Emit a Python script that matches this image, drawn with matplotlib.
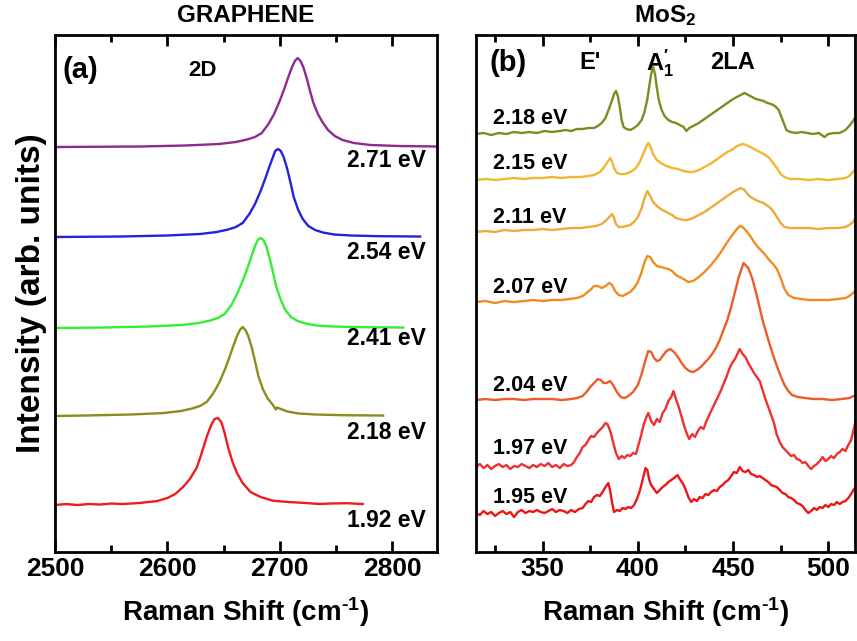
import numpy as np
import matplotlib
matplotlib.use("Agg")
import matplotlib.pyplot as plt
from matplotlib.ticker import MultipleLocator, NullLocator

plt.rcParams['font.family'] = ['Liberation Sans', 'DejaVu Sans']
plt.rcParams['font.weight'] = 'bold'
plt.rcParams['mathtext.fontset'] = 'custom'
plt.rcParams['mathtext.rm'] = 'Liberation Sans:bold'
plt.rcParams['mathtext.bf'] = 'Liberation Sans:bold'
plt.rcParams['mathtext.default'] = 'bf'

# ---- graphene 2D band (Raman shift, intensity above baseline) ----
gr_labels = ['2.71 eV', '2.54 eV', '2.41 eV', '2.18 eV', '1.92 eV']
gr_colors = ['#8e2a8e', '#2222dd', '#33ee33', '#8c8c1c', '#ee1c1c']
gr_offsets = [405, 315, 224, 136, 47]
gr_label_y = [392, 300, 214, 120, 32]

gr_271_x = [2500, 2576, 2616, 2646, 2661, 2671, 2678, 2684, 2690, 2695, 2700, 2704, 2708, 2711, 2713.5,
            2716, 2718.5, 2721, 2724, 2727, 2730, 2734, 2738, 2743, 2749, 2756, 2766, 2781, 2806, 2840]
gr_271_y = [0, 0.5, 1.5, 3, 5, 7.5, 10, 14, 23, 33, 46, 58, 71, 80, 86,
            89, 86, 80, 69, 56, 44, 33, 25, 17, 11, 7, 4, 2, 1, 0.5]
gr_254_x = [2500, 2559, 2599, 2629, 2644, 2654, 2661, 2667, 2673, 2678, 2683, 2687, 2691, 2694, 2696,
            2698.5, 2701, 2703.5, 2706.5, 2709.5, 2712.5, 2716.5, 2720.5, 2725.5, 2731.5, 2738.5, 2748.5,
            2763.5, 2788.5, 2825]
gr_254_y = [0, 0.5, 1.5, 3, 5, 7.5, 10, 14, 23, 33, 46, 58, 71, 80, 86,
            88, 86, 80, 69, 55, 40, 27, 18, 11, 7, 4.5, 2.5, 1.5, 0.8, 0.5]
gr_241_x = [2500, 2543, 2583, 2613, 2628, 2638, 2645, 2651, 2657, 2662, 2667, 2671, 2675, 2678, 2680.5,
            2683, 2685.5, 2688, 2691, 2694, 2697, 2701, 2705, 2710, 2716, 2723, 2733, 2748, 2773, 2810]
gr_241_y = [0, 0.5, 1.5, 3, 5, 7.5, 10, 14, 23, 34, 47, 59, 72, 82, 88,
            90, 88, 82, 70, 56, 41, 28, 18, 11, 7, 4.5, 2.5, 1.5, 0.8, 0.5]
gr_218_x = [2500, 2527, 2567, 2597, 2612, 2622, 2629, 2635, 2641, 2646, 2651, 2655, 2659, 2662, 2664.5,
            2667, 2669.5, 2672, 2675, 2678, 2681, 2685, 2689, 2694, 2696.5, 2697.5, 2707, 2717, 2732,
            2757, 2792]
gr_218_y = [0, 0.5, 1.5, 3, 5, 7.5, 10, 14, 23, 33, 46, 58, 71, 80, 86,
            89, 86, 80, 69, 55, 40, 27, 18, 11, 6.5, 8.5, 4.5, 2.5, 1.5, 0.8, 0.5]
gr_192_x = [2500, 2510, 2520, 2530, 2540, 2550, 2560, 2575, 2591, 2600, 2607, 2614, 2620, 2626, 2630,
            2635, 2639, 2642, 2645, 2648, 2651, 2654, 2658, 2662, 2667, 2674, 2683, 2694, 2708, 2724,
            2735, 2745, 2760, 2774]
gr_192_y = [0, 1, 0, 1, 0.5, 1.5, 1, 2, 4, 7, 11, 18, 26, 37, 50,
            68, 80, 86, 87, 83, 72, 58, 43, 32, 22, 13, 8, 4.3, 3, 2,
            1, 1.5, 1.8, 1]

gr_x = [gr_271_x, gr_254_x, gr_241_x, gr_218_x, gr_192_x]
gr_y = [gr_271_y, gr_254_y, gr_241_y, gr_218_y, gr_192_y]

# ---- MoS2 spectra (Raman shift, intensity above baseline) ----
mo_labels = ['2.18 eV', '2.15 eV', '2.11 eV', '2.07 eV', '2.04 eV', '1.97 eV', '1.95 eV']
mo_colors = ['#7d8c1f', '#f2b632', '#eeaa3a', '#f28c20', '#f05a28', '#f03030', '#ee1515']
mo_offsets = [418, 372, 320, 250, 152, 85, 39]
mo_label_y = [434, 389, 335, 265, 167, 104, 55]

mo_218_x = [315, 319, 323, 327, 331, 335, 339, 343, 347, 351, 355, 359, 362, 365, 368, 371, 374, 377,
            379, 381, 383, 385, 386.5, 387.5, 388.5, 389.5, 390.5, 391.5, 392.5, 394, 396, 398, 400,
            402, 403.5, 405, 406, 407, 408, 409, 410, 411, 412.5, 414, 416, 418, 420, 422, 424, 425.5,
            427, 429, 432, 435, 438, 441, 444, 447, 450, 452, 454, 456, 458, 460, 462, 464, 466, 468,
            470, 472, 474, 476, 478, 480, 483, 486, 489, 492, 495, 498, 500, 503, 506, 509, 511, 513,
            514.5]
mo_218_y = [0, 1, -1, 1, 0, 2, 1, 2, 1, 3, 2, 3, 4, 3, 5, 5, 6, 6,
            8, 11, 16, 26, 34, 40, 43, 38, 27, 14, 7, 5, 4, 6, 9,
            14, 22, 35, 48, 60, 67, 60, 46, 34, 24, 18, 14, 12, 11, 9, 7, 3,
            6, 8, 11, 15, 19, 23, 27, 31, 35, 37, 39, 41, 39, 37, 35, 34, 33, 31,
            30, 28, 24, 14, 4, 2, 1, 2, 1, 0, 1, -3, 0, 1, 1, 4, 8, 13,
            18]
mo_215_x = [315, 320, 325, 330, 335, 340, 345, 350, 355, 360, 365, 370, 374, 377, 380, 382, 384, 385.5,
            386.5, 387.5, 389, 391, 393, 395, 397, 399, 401, 403, 404.5, 405.5, 406.5, 408, 410, 412,
            415, 418, 421, 424, 427, 429, 432, 435, 438, 441, 444, 447, 450, 452, 455, 457, 459, 461,
            464, 467, 469, 471, 473, 475, 477, 480, 485, 490, 495, 500, 505, 509, 511, 513, 514.5]
mo_215_y = [0, 1, 0, 1, 2, 1, 2, 2, 3, 2, 3, 3, 4, 5, 8, 12, 18, 22,
            18, 12, 7, 6, 6, 7, 9, 12, 18, 27, 34, 37, 34, 26, 20, 17,
            14, 12, 11, 9, 8, 8, 10, 13, 16, 20, 24, 28, 31, 34, 36, 35, 33, 31,
            28, 25, 22, 17, 12, 6, 3, 1, 1, 0, 1, 0, 1, 2, 4, 8, 12]
mo_211_x = [315, 320, 325, 330, 335, 340, 345, 350, 355, 360, 365, 370, 374, 378, 381, 383, 385, 386.5,
            387.5, 388.5, 390, 392, 394, 396, 398, 400, 402, 403.5, 405, 406.5, 408, 410, 412, 414,
            416, 418, 420, 422, 424, 426, 429, 432, 435, 438, 441, 444, 447, 450, 452, 454, 456, 458,
            460, 463, 466, 469, 471, 473, 475, 477, 480, 485, 490, 495, 500, 505, 509, 511, 513, 514.5]
mo_211_y = [0, 1, 0, 2, 1, 2, 2, 3, 2, 3, 4, 4, 5, 6, 8, 11, 15, 18,
            14, 8, 5, 5, 6, 7, 10, 15, 24, 34, 41, 36, 30, 26, 23, 21,
            19, 17, 14, 13, 12, 12, 14, 17, 20, 24, 28, 32, 36, 40, 42, 44, 42, 37,
            34, 31, 29, 25, 21, 15, 9, 5, 4, 4, 4, 3, 4, 4, 5, 7, 10, 15]
mo_207_x = [315, 320, 325, 330, 335, 340, 345, 350, 355, 360, 364, 368, 371, 373, 375, 377, 379, 381,
            383, 385, 386.5, 388, 390, 392, 394, 396, 398, 400, 402, 403.5, 405, 406.5, 408, 410,
            412, 414, 416, 418, 420, 422, 424, 426.5, 429, 432, 435, 438, 441, 444, 447, 450, 452,
            453.5, 455, 457, 459, 461, 463, 465, 467, 469, 471, 473, 475, 477, 479, 482, 486, 490,
            495, 500, 505, 509, 511, 513, 514.5]
mo_207_y = [0, 1, -1, 1, 0, 1, 2, 1, 2, 2, 3, 4, 6, 9, 12, 16, 16, 14,
            16, 19, 17, 11, 7, 6, 8, 10, 14, 20, 30, 40, 46, 45, 40, 36,
            35, 34, 33, 31, 27, 25, 23, 20, 21, 25, 30, 36, 43, 51, 60, 68, 73,
            76, 75, 71, 66, 60, 55, 51, 47, 42, 38, 33, 24, 13, 7, 4, 3, 2,
            2, 2, 3, 4, 6, 9, 12]
mo_204_x = [315, 320, 325, 330, 335, 340, 345, 350, 355, 360, 365, 368, 371, 373, 375, 377, 379, 380.5,
            382, 383.5, 385.5, 387, 389, 391, 393, 395, 397.5, 400, 402, 404, 405.5, 407, 408.5, 410,
            411.5, 413, 415, 417, 419, 421, 423, 425, 427, 429, 431, 433, 435, 437, 439, 441, 443,
            445, 447, 449, 451, 453, 455.5, 458, 460, 462, 464, 465.5, 467, 469, 471, 473, 475, 477,
            479, 481, 484, 488, 492, 497, 502, 507, 511, 514.5]
mo_204_y = [0, 1, 0, 1, 1, 0, 1, 1, 1, 0, 1, 2, 4, 8, 13, 17, 21, 20,
            17, 17, 19, 15, 8, 3, 2, 4, 8, 15, 26, 40, 49, 48, 42, 39,
            40, 44, 49, 51, 48, 43, 37, 32, 29, 28, 30, 33, 37, 41, 46, 52, 60,
            70, 80, 93, 108, 123, 137, 132, 122, 108, 92, 80, 70, 57, 45, 34, 24, 15,
            9, 5, 3, 2, 1, 1, 0, 1, 2, 5]
mo_197_x = [315, 317, 319, 321, 323, 325, 327, 329, 331, 333, 335, 337, 339, 341, 343, 345, 347, 349,
            351, 353, 355, 357, 359, 361, 363, 365, 366.5, 368, 369.5, 371, 372.5, 374, 375.5, 377,
            378.5, 380, 381.5, 383, 384, 385.5, 387, 388.5, 390, 391.5, 393, 394.5, 396, 397.5, 399,
            400, 401.5, 403, 404.5, 405.5, 407, 408.5, 410, 411.5, 413, 414.5, 416, 417.5, 418.7, 420,
            421.5, 423, 424.5, 426, 427, 428.5, 430, 431.5, 433, 434.5, 436, 437.5, 439, 440.5, 442,
            443.5, 445, 446.5, 448, 449.5, 451, 452.5, 453.5, 455, 456.5, 458, 459.5, 461, 462.5, 464,
            465.5, 467, 468.5, 470, 471.5, 473, 474.5, 476, 477.5, 479, 480.5, 482, 483.5, 485, 486.5,
            488, 489.5, 491, 492.5, 494, 495.5, 497, 498.5, 500, 501.5, 503, 504.5, 506, 507.5, 509,
            510.5, 512, 513, 514.5]
mo_197_y = [0, 3, -1, 2, -2, 1, 3, 0, 2, -2, 1, 0, 3, 1, -1, 2, 0, 3,
            1, 4, 0, 2, -1, 3, 1, 2, 5, 10, 14, 20, 22, 27, 31, 30,
            34, 37, 40, 44, 43, 36, 25, 14, 8, 11, 9, 12, 11, 14, 13,
            20, 30, 42, 50, 54, 46, 42, 48, 45, 54, 58, 66, 70, 76, 68,
            60, 50, 40, 32, 28, 33, 30, 36, 40, 38, 46, 52, 58, 64, 70,
            76, 83, 90, 98, 104, 108, 114, 118, 113, 110, 104, 99, 94, 90, 86,
            77, 68, 60, 52, 44, 32, 25, 20, 17, 14, 11, 12, 8, 7, 4,
            5, 1, -2, 1, 3, 6, 10, 6, 8, 11, 9, 13, 15, 18, 16,
            22, 27, 35, 47]
mo_195_x = [315, 317, 319, 321, 323, 325, 327, 329, 331, 333, 335, 337, 339, 341, 343, 345, 347, 349,
            351, 353, 355, 357, 359, 361, 363, 365, 367, 369, 371, 372.5, 374, 375.5, 377, 378.5, 380,
            381.5, 383, 384.5, 385.5, 386.5, 387.5, 389, 390.5, 392, 393.5, 395, 396.5, 398, 399.5,
            401, 402.5, 404, 405, 406, 407, 408.5, 410, 411.5, 413, 414.5, 416, 417.5, 419, 420.8, 422,
            423.5, 425, 426.5, 428, 429.5, 431, 432.5, 434, 435.5, 437, 438.5, 440, 441.5, 443, 444.5,
            446, 447.5, 449, 450.5, 452, 453.5, 455, 456.5, 458, 459.5, 461, 462.5, 464, 465.5, 467,
            468.5, 470, 471.5, 473, 474.5, 476, 477.5, 479, 480.5, 482, 483.5, 485, 486.5, 488, 489.5,
            491, 492.5, 494, 495.5, 497, 498.5, 500, 501.5, 503, 504.5, 506, 507.5, 509, 510.5, 512,
            513.5, 514.5]
mo_195_y = [0, -2, 2, -1, 1, -3, 0, 2, -1, 1, -4, 1, 3, 0, 2, 1, 3, 1,
            0, 2, 4, 1, 3, 2, 0, 3, 1, 4, 5, 9, 12, 11, 16, 18, 17,
            21, 26, 30, 22, 10, 1, 3, 2, 5, 4, 6, 5, 8, 14,
            22, 33, 45, 43, 33, 28, 24, 20, 23, 26, 28, 31, 33, 35, 38, 34,
            30, 24, 16, 11, 14, 12, 16, 15, 19, 18, 21, 23, 22, 26, 28,
            31, 33, 37, 41, 40, 46, 42, 41, 43, 39, 38, 36, 37, 35, 33,
            31, 28, 27, 26, 23, 20, 19, 16, 15, 13, 10, 9, 7, 3, 0,
            2, 5, 3, 6, 5, 8, 6, 9, 8, 11, 9, 11, 12, 15, 19,
            24, 26]

mo_x = [mo_218_x, mo_215_x, mo_211_x, mo_207_x, mo_204_x, mo_197_x, mo_195_x]
mo_y = [mo_218_y, mo_215_y, mo_211_y, mo_207_y, mo_204_y, mo_197_y, mo_195_y]

fig = plt.figure(figsize=(8.57, 6.41), dpi=100)
ax1 = fig.add_axes([0.0642, 0.1388, 0.4457, 0.8066])
ax2 = fig.add_axes([0.5554, 0.1388, 0.4422, 0.8066])


def style_axis(ax):
    for sp in ax.spines.values():
        sp.set_linewidth(2)
    ax.yaxis.set_major_locator(NullLocator())
    ax.tick_params(axis='x', which='both', direction='in', top=True, bottom=True,
                   width=2, labelsize=19)
    ax.tick_params(axis='x', which='major', length=8)
    ax.tick_params(axis='x', which='minor', length=5)
    ax.set_ylim(0, 517)
    ax.set_xlabel(r'Raman Shift (cm$^{\text{-1}}$)', fontsize=20, fontweight='bold', labelpad=10)
    for t in ax.get_xticklabels():
        t.set_fontweight('bold')


for xs, ys, off, c, lab, ly in zip(gr_x, gr_y, gr_offsets, gr_colors, gr_labels, gr_label_y):
    ax1.plot(xs, off + np.array(ys), color=c, lw=1.7)
    ax1.text(2830, ly, lab, ha='right', va='center', fontsize=16.5, fontweight='bold')

ax1.set_xlim(2500, 2840)
ax1.xaxis.set_major_locator(MultipleLocator(100))
ax1.xaxis.set_minor_locator(MultipleLocator(50))
style_axis(ax1)
ax1.set_ylabel('Intensity (arb. units)', fontsize=24, fontweight='bold', labelpad=6)
ax1.set_title('GRAPHENE', fontsize=17.5, fontweight='bold', pad=9)
ax1.text(0.02, 0.932, '(a)', transform=ax1.transAxes, fontsize=21, fontweight='bold', va='center')
ax1.text(0.385, 0.932, '2D', transform=ax1.transAxes, fontsize=16, fontweight='bold',
         va='center', ha='center')

for xs, ys, off, c, lab, ly in zip(mo_x, mo_y, mo_offsets, mo_colors, mo_labels, mo_label_y):
    ax2.plot(xs, off + np.array(ys), color=c, lw=1.7)
    ax2.text(324, ly, lab, ha='left', va='center', fontsize=15.5, fontweight='bold')

ax2.set_xlim(315, 514)
ax2.xaxis.set_major_locator(MultipleLocator(50))
ax2.xaxis.set_minor_locator(MultipleLocator(25))
style_axis(ax2)
ax2.set_title('MoS$_2$', fontsize=17.5, fontweight='bold', pad=9)
ax2.text(0.037, 0.946, '(b)', transform=ax2.transAxes, fontsize=21, fontweight='bold', va='center')
ax2.text(0.30, 0.946, "E'", transform=ax2.transAxes, fontsize=17, fontweight='bold',
         va='center', ha='center')
ax2.text(0.486, 0.946, r"A$_1^{\prime}$", transform=ax2.transAxes, fontsize=17,
         fontweight='bold', va='center', ha='center')
ax2.text(0.678, 0.946, '2LA', transform=ax2.transAxes, fontsize=17, fontweight='bold',
         va='center', ha='center')

fig.savefig('out.png', dpi=100)
